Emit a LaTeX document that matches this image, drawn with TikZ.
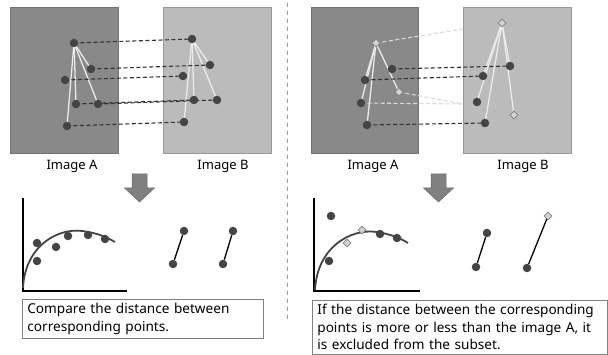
\documentclass[tikz,border=0pt]{standalone}
\usepackage{fontspec}
\setmainfont{Noto Sans}
\usetikzlibrary{shapes.geometric}
\definecolor{imgdark}{HTML}{898989}
\definecolor{imglight}{HTML}{BBBBBB}
\definecolor{dotgray}{HTML}{444444}
\begin{document}
\begin{tikzpicture}[x=1pt,y=-1pt]
  \tikzset{
    photoA/.style={fill=imgdark,draw=black!55,line width=0.8pt},
    photoB/.style={fill=imglight,draw=black!40,line width=0.8pt},
    dot/.style={circle,fill=dotgray,inner sep=0pt,minimum size=8.5pt},
    outlier/.style={diamond,draw=black!50,fill=black!17,inner sep=0pt,minimum size=8pt,line width=0.6pt},
    star/.style={draw=white!92!black,line width=1.3pt},
    match/.style={draw=black!80,line width=1.1pt,dash pattern=on 4pt off 2.5pt},
    lost/.style={draw=black!15,line width=1.1pt,dash pattern=on 4pt off 2.5pt},
    pair/.style={draw=black,line width=1.3pt},
    axes/.style={draw=black,line width=1.8pt},
    fit curve/.style={draw=dotgray,line width=1.8pt},
    caption/.style={draw=black!50,line width=0.8pt,anchor=north west,align=left,
      inner xsep=5pt,inner ysep=4pt,font=\fontsize{13.6}{17.5}\selectfont},
    label/.style={font=\fontsize{13}{15}\selectfont},
    down arrow/.style={fill=black!50,draw=black!58,line width=0.5pt},
  }
  \useasboundingbox (0,0) rectangle (608,355);

  % the two image pairs
  \draw[photoA] (10,7) rectangle (118,153);
  \draw[photoB] (163,7) rectangle (271,153);
  \draw[photoA] (311,7) rectangle (418,153);
  \draw[photoB] (463,7) rectangle (571,153);

  \node[label] (lblA) at (72,166) {Image A};
  \node[label] (lblB) at (223,166) {Image B};
  \node[label] (lblA2) at (373,166) {Image A};
  \node[label] (lblB2) at (523,166) {Image B};

  % separator
  \draw[black!40,line width=0.8pt,dash pattern=on 4pt off 4pt] (287,3) -- (287,322);

  % left pair: all points keep their distances
  \coordinate (a1) at (74,43);  \coordinate (b1) at (192,39);
  \coordinate (a2) at (91,69);  \coordinate (b2) at (210,65);
  \coordinate (a3) at (65,80);  \coordinate (b3) at (183,76);
  \coordinate (a4) at (76,104); \coordinate (b4) at (194,100);
  \coordinate (a5) at (98,104); \coordinate (b5) at (217,100);
  \coordinate (a6) at (67,126); \coordinate (b6) at (184,122);
  \foreach \i in {2,4,5,6} {
    \draw[star] (a1) -- (a\i);
    \draw[star] (b1) -- (b\i);
  }
  \foreach \i in {1,...,6}
    \draw[match] (a\i) -- (b\i);
  \foreach \i in {1,...,6} {
    \node[dot] (na\i) at (a\i) {};
    \node[dot] (nb\i) at (b\i) {};
  }

  % right pair: two points are thrown out
  \coordinate (c1) at (376,43);  \coordinate (d1) at (502,23);
  \coordinate (c2) at (392,69);  \coordinate (d2) at (510,66);
  \coordinate (c3) at (365,80);  \coordinate (d3) at (483,76);
  \coordinate (c4) at (399,92);  \coordinate (d4) at (514,115);
  \coordinate (c5) at (361,103); \coordinate (d5) at (477,102);
  \coordinate (c6) at (367,125); \coordinate (d6) at (485,123);
  \coordinate (e1) at (463,29);
  \coordinate (e4) at (463,104);
  \foreach \i in {3,4,5,6}
    \draw[star] (c1) -- (c\i);
  \foreach \i in {2,3,4,5,6}
    \draw[star] (d1) -- (d\i);
  \foreach \i in {2,3,6}
    \draw[match] (c\i) -- (d\i);
  \draw[lost] (c1) -- (e1);
  \draw[lost] (c4) -- (e4);
  \draw[lost] (c5) -- (e4);
  \foreach \i in {2,3,5,6} {
    \node[dot] (nc\i) at (c\i) {};
    \node[dot] (nd\i) at (d\i) {};
  }
  \foreach \i in {1,4} {
    \node[outlier] (nc\i) at (c\i) {};
    \node[outlier] (nd\i) at (d\i) {};
  }

  % block arrows
  \foreach \cx in {139.5,438.5}
    \draw[down arrow] (\cx-7.5,174) -- (\cx+7.5,174) -- (\cx+7.5,188) -- (\cx+15,188)
      -- (\cx,202) -- (\cx-15,188) -- (\cx-7.5,188) -- cycle;

  % left plot
  \draw[axes] (23,198) -- (23,291) -- (127,291);
  \draw[fit curve] (23,288) .. controls (25,245) and (60,225) .. (88,232)
    .. controls (100,234) and (108,238) .. (115,242);
  \foreach \px/\py [count=\k] in {37/243,37/261,56/247,68/236,88/235,105/239}
    \node[dot] (p\k) at (\px,\py) {};
  \node[dot] (q1) at (184,231) {};
  \node[dot] (q2) at (173,264) {};
  \node[dot] (q3) at (233,231) {};
  \node[dot] (q4) at (223,264) {};
  \draw[pair] (q1) -- (q2);
  \draw[pair] (q3) -- (q4);

  % right plot
  \draw[axes] (314,198) -- (314,291) -- (420,291);
  \draw[fit curve] (315,290) .. controls (317,248) and (350,228) .. (377,232)
    .. controls (390,234) and (400,238) .. (408,243);
  \foreach \px/\py [count=\k] in {331/216,329/261,380/234,397/238}
    \node[dot] (r\k) at (\px,\py) {};
  \node[outlier] (r5) at (347,243) {};
  \node[outlier] (r6) at (362,230) {};
  \node[dot] (s1) at (487,233) {};
  \node[dot] (s2) at (476,267) {};
  \node[outlier] (s3) at (548,216) {};
  \node[dot] (s4) at (527,268) {};
  \draw[pair] (s1) -- (s2);
  \draw[pair] (s3) -- (s4);

  % captions
  \node[caption,text width=231pt] (capL) at (22,299)
    {Compare the distance between\\corresponding points.};
  \node[caption,text width=285pt] (capR) at (312,300)
    {If the distance between the corresponding\\points is more or less than the image A, it\\is excluded from the subset.};
\end{tikzpicture}
\end{document}
